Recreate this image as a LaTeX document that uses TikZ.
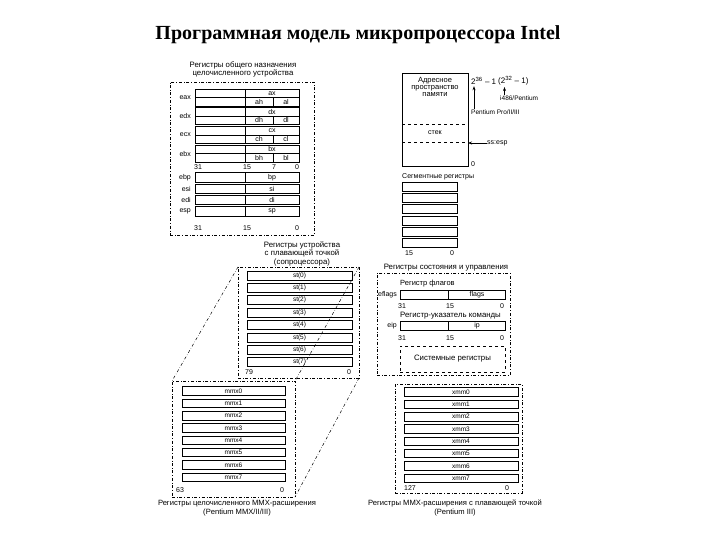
\documentclass[tikz,border=0pt]{standalone}
\usepackage{fontspec}
\setmainfont{Liberation Sans}
\newfontfamily\titlefont{Liberation Serif}
\usetikzlibrary{positioning,arrows.meta}

\begin{document}
\begin{tikzpicture}[
        x=1pt, y=-1pt,
        font=\fontsize{7}{8}\selectfont,
        >=Stealth,
        % Styles
        reg/.style={draw=black, line width=0.7pt, minimum height=9, inner sep=0, outer sep=0, font=\fontsize{6.5}{7}\selectfont},
        wreg/.style={reg, minimum width=104, minimum height=17},
        split/.style={line width=0.5pt},
        frame/.style={draw=black, dash dot, line width=0.5pt, inner sep=0, outer sep=0},
        bits/.style={inner sep=0, font=\fontsize{7}{8}\selectfont},
        heading/.style={align=center, inner sep=0, font=\fontsize{7.8}{8.5}\selectfont},
        proj/.style={dash dot, line width=0.5pt},
        ptr/.style={-{Stealth[length=4pt,width=3pt]}, line width=0.6pt}
    ]

    \useasboundingbox (0,0) rectangle (720,540);
    \fill[white] (0,0) rectangle (720,540);

    % ================= TITLE =================
    \node[font=\titlefont\bfseries\fontsize{20}{24}\selectfont] (title) at (358,35) {Программная модель микропроцессора Intel};

    % ================= GENERAL PURPOSE REGISTERS =================
    \node[heading, font=\fontsize{7.8}{8}\selectfont] (gphead) at (243,69) {Регистры общего назначения\\целочисленного устройства};
    \node[frame, minimum width=144, minimum height=153] (gpframe) at (242,158.5) {};

    % Split registers: full word, low word, high and low byte
    \foreach \rn [count=\i from 0] in {a,d,c,b}{
        \node[wreg] (e\rn x) at (247,{97.5+18.7*\i}) {};
        \draw[split] (e\rn x.west) -- (e\rn x.east);
        \draw[split] ([xshift=-2pt]e\rn x.north) -- ([xshift=-2pt]e\rn x.south);
        \draw[split] ([xshift=26pt]e\rn x.center) -- ([xshift=26pt]e\rn x.south);
        \node[bits] at ([xshift=25pt,yshift=4.2pt]e\rn x.center) {\rn x};
        \node[bits] at ([xshift=12pt,yshift=-4.2pt]e\rn x.center) {\rn h};
        \node[bits] at ([xshift=39pt,yshift=-4.2pt]e\rn x.center) {\rn l};
        \node[bits, left=4pt of e\rn x] {e\rn x};
    }
    \node[bits] at (198,167) {31};
    \node[bits] at (247,167) {15};
    \node[bits] at (274,167) {7};
    \node[bits] at (297,167) {0};

    % Pointer and index registers
    \foreach \rn/\sn [count=\i from 0] in {ebp/bp, esi/si, edi/di, esp/sp}{
        \node[reg, minimum width=104, minimum height=9.5] (\rn) at (247,{177.5+11.3*\i}) {};
        \draw[split] ([xshift=-2pt]\rn.north) -- ([xshift=-2pt]\rn.south);
        \node[bits] at ([xshift=25pt]\rn.center) {\sn};
        \node[bits, left=4pt of \rn] {\rn};
    }
    \node[bits] at (198,228) {31};
    \node[bits] at (247,228) {15};
    \node[bits] at (297,228) {0};

    % ================= MEMORY =================
    \node[draw, line width=0.7pt, minimum width=66, minimum height=93, inner sep=0, outer sep=0] (mem) at (435,119.5) {};
    \node[heading, font=\fontsize{7.5}{7}\selectfont] (memtext) at (435,86.5) {Адресное\\пространство\\памяти};
    \draw[dashed, line width=0.5pt] (mem.west |- 0,124) -- (mem.east |- 0,124);
    \draw[dashed, line width=0.5pt] (mem.west |- 0,142) -- (mem.east |- 0,142);
    \node[bits] (stack) at (435,133) {стек};
    \node[bits, anchor=west] (memzero) at (471,164) {0};

    % Address limits
    \node[bits, anchor=west, font=\fontsize{8}{9}\selectfont] (lim36) at (471,81) {2\textsuperscript{36} – 1};
    \node[bits, anchor=west, font=\fontsize{8}{9}\selectfont] (lim32) at (498,81) {(2\textsuperscript{32} – 1)};
    \node[bits, anchor=west, font=\fontsize{6.5}{7}\selectfont] (i486) at (500,98) {i486/Pentium};
    \node[bits, anchor=west, font=\fontsize{6.5}{7}\selectfont] (ppro) at (471,112) {Pentium Pro/II/III};
    \draw[ptr] ([xshift=3pt]ppro.north west) -- ([xshift=3pt,yshift=-1.5pt]lim36.south west);
    \draw[ptr] ([xshift=4.5pt]i486.north west) -- ([xshift=6.5pt,yshift=-1.5pt]lim32.south west);

    % Stack pointer
    \node[bits, anchor=west] (ssesp) at (487,143) {ss:esp};
    \draw[ptr] (ssesp.west) -- (ssesp.west -| mem.east);

    % ================= SEGMENT REGISTERS =================
    \node[bits, anchor=west] (seghead) at (402,177) {Сегментные регистры};
    \foreach \i in {0,...,5}
        \node[reg, minimum width=55] (seg\i) at (429.5,{186.5+11.3*\i}) {};
    \node[bits] at (409,253) {15};
    \node[bits] at (452,253) {0};

    % ================= STATUS AND CONTROL =================
    \node[heading] (sthead) at (446,267.5) {Регистры состояния и управления};
    \node[frame, minimum width=133, minimum height=102] (stframe) at (443.5,324) {};

    \node[bits, anchor=west, font=\fontsize{7.5}{8}\selectfont] (flagshead) at (400,284) {Регистр флагов};
    \node[reg, minimum width=105, minimum height=8.5] (eflags) at (452.5,295) {};
    \draw[split] ([xshift=-4.5pt]eflags.north) -- ([xshift=-4.5pt]eflags.south);
    \node[bits] at ([xshift=24.5pt]eflags.center) {flags};
    \node[bits, left=3pt of eflags] {eflags};
    \node[bits] at (402,306) {31};
    \node[bits] at (450,306) {15};
    \node[bits] at (502,306) {0};

    \node[bits, anchor=west, font=\fontsize{7.8}{8}\selectfont] (iphead) at (400,316) {Регистр-указатель команды};
    \node[reg, minimum width=105, minimum height=8.5] (eip) at (452.5,326) {};
    \draw[split] ([xshift=-4.5pt]eip.north) -- ([xshift=-4.5pt]eip.south);
    \node[bits] at ([xshift=24.5pt]eip.center) {ip};
    \node[bits, left=3pt of eip] {eip};
    \node[bits] at (402,338) {31};
    \node[bits] at (450,338) {15};
    \node[bits] at (502,338) {0};

    \node[draw, dashed, line width=0.5pt, minimum width=105, minimum height=26, inner sep=0, font=\fontsize{7.8}{8}\selectfont] (sysreg) at (452.5,359) {Системные регистры};

    % ================= FLOATING POINT UNIT =================
    \node[heading] (fpuhead) at (302,253.5) {Регистры устройства\\с плавающей точкой\\(сопроцессора)};
    \node[frame, minimum width=121, minimum height=111] (fpuframe) at (298.5,322.5) {};
    \foreach \i in {0,...,7}
        \node[reg, minimum width=105] (st\i) at (299.5,{275.5+12.4*\i}) {st(\i)};
    \node[bits] at (249,372) {79};
    \node[bits] at (349,372) {0};

    % ================= MMX =================
    \node[frame, minimum width=123, minimum height=116] (mmxframe) at (233.5,439) {};
    \foreach \i in {0,...,7}
        \node[reg, minimum width=103, minimum height=8.5] (mmx\i) at (233.5,{391+12.3*\i}) {mmx\i};
    \node[bits] at (180,490) {63};
    \node[bits] at (282,490) {0};
    \node[heading, font=\fontsize{7.6}{8.8}\selectfont] (mmxhead) at (237,508) {Регистры целочисленного MMX-расширения\\(Pentium MMX/II/III)};

    % MMX registers are mapped onto the FPU stack
    \draw[proj] (fpuframe.north west) -- (mmxframe.north west);
    \draw[proj] (fpuframe.north east) -- (mmxframe.north east);
    \draw[proj] (fpuframe.south east) -- (mmxframe.south east);

    % ================= XMM =================
    \node[frame, minimum width=127, minimum height=109] (xmmframe) at (458.5,438.5) {};
    \foreach \i in {0,...,7}
        \node[reg, minimum width=114, minimum height=8.5] (xmm\i) at (461,{392+12.3*\i}) {xmm\i};
    \node[bits] at (410,488) {127};
    \node[bits] at (507,488) {0};
    \node[heading, font=\fontsize{7.6}{8.8}\selectfont] (xmmhead) at (455,508) {Регистры MMX-расширения с плавающей точкой\\(Pentium III)};

\end{tikzpicture}
\end{document}
